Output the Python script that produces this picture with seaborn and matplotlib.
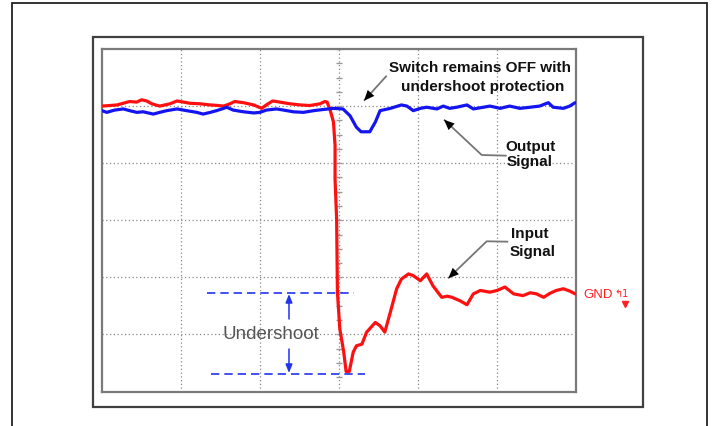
import numpy as np
import pandas as pd
import matplotlib
matplotlib.use("Agg")
import matplotlib.pyplot as plt
from matplotlib.patches import Rectangle
import seaborn as sns

# ---------------- data (units: screen divisions) ----------------
input_t = [0.00, 0.10, 0.19, 0.27, 0.35, 0.44, 0.50, 0.565, 0.63, 0.73, 0.86, 0.95,
           1.03, 1.11, 1.24, 1.37, 1.47, 1.54, 1.62, 1.68, 1.79, 1.92, 2.02, 2.08,
           2.16, 2.25, 2.38, 2.51, 2.63, 2.76, 2.82, 2.85, 2.89, 2.93, 2.95, 2.95,
           2.97, 2.98, 3.01, 3.06, 3.09, 3.13, 3.18, 3.22, 3.29, 3.35, 3.46, 3.52,
           3.58, 3.65, 3.73, 3.79, 3.88, 3.94, 4.03, 4.11, 4.19, 4.30, 4.37, 4.43,
           4.53, 4.62, 4.70, 4.79, 4.91, 5.00, 5.10, 5.21, 5.33, 5.42, 5.50, 5.59,
           5.67, 5.75, 5.84, 5.92, 5.99]
input_v = [5.00, 5.01, 5.02, 5.05, 5.08, 5.07, 5.11, 5.09, 5.04, 5.00, 5.04, 5.09,
           5.07, 5.05, 5.04, 5.02, 5.01, 5.00, 5.04, 5.08, 5.06, 5.02, 4.96, 5.02,
           5.09, 5.07, 5.04, 5.02, 5.01, 5.04, 5.08, 5.07, 4.92, 4.72, 4.31, 3.72,
           3.02, 1.74, 1.10, 0.69, 0.35, 0.35, 0.69, 0.80, 0.83, 1.04, 1.21, 1.15,
           1.04, 1.39, 1.80, 1.97, 2.06, 2.03, 1.94, 2.06, 1.85, 1.65, 1.67, 1.65,
           1.59, 1.52, 1.71, 1.77, 1.74, 1.77, 1.83, 1.71, 1.68, 1.73, 1.71, 1.65,
           1.72, 1.77, 1.80, 1.76, 1.71]

output_t = [0.00, 0.06, 0.16, 0.27, 0.35, 0.44, 0.52, 0.65, 0.73, 0.82, 0.95, 1.07,
            1.20, 1.28, 1.37, 1.45, 1.54, 1.58, 1.66, 1.79, 1.92, 2.00, 2.08, 2.21,
            2.34, 2.42, 2.55, 2.68, 2.80, 2.93, 3.05, 3.14, 3.22, 3.28, 3.39, 3.46,
            3.52, 3.65, 3.79, 3.86, 3.94, 4.03, 4.11, 4.24, 4.32, 4.40, 4.49, 4.62,
            4.70, 4.83, 4.91, 5.04, 5.16, 5.29, 5.42, 5.54, 5.65, 5.71, 5.84, 5.92,
            5.99]
output_v = [4.92, 4.89, 4.93, 4.95, 4.92, 4.89, 4.90, 4.86, 4.89, 4.92, 4.95, 4.92,
            4.89, 4.86, 4.89, 4.92, 4.96, 4.98, 4.93, 4.90, 4.88, 4.89, 4.93, 4.95,
            4.92, 4.90, 4.89, 4.92, 4.94, 4.96, 4.95, 4.83, 4.63, 4.55, 4.55, 4.72,
            4.92, 4.96, 5.02, 5.00, 4.92, 4.96, 4.98, 4.95, 5.00, 4.96, 4.98, 5.02,
            4.95, 4.98, 5.00, 4.96, 5.00, 4.96, 4.98, 5.00, 5.06, 4.98, 4.96, 5.00,
            5.06]

series_names = ["Input", "Output"]
series_colors = ["#ff1010", "#1414f0"]

# ---------------- figure ----------------
sns.set_style("white")
plt.rcParams["font.family"] = ["Liberation Sans", "DejaVu Sans"]

W, H = 714, 427
fig = plt.figure(figsize=(W / 100, H / 100), dpi=100)

def fx(px):
    return px / W

def fy(py):
    return 1 - py / H

# outer page border and instrument frame
fig.add_artist(Rectangle((fx(12.3), -0.1), fx(707.3) - fx(12.3), fy(4) + 0.1,
                         fill=False, ec="#222222", lw=1.3, transform=fig.transFigure))
fig.add_artist(Rectangle((fx(92.5), fy(407.5)), fx(643.3) - fx(92.5), fy(37.7) - fy(407.5),
                         fill=False, ec="#404040", lw=1.6, transform=fig.transFigure))

ax = fig.add_axes([fx(102), fy(392.5), fx(576) - fx(102), fy(50) - fy(392.5)])
ax.set_xlim(0, 6)
ax.set_ylim(0, 6)
for s in ax.spines.values():
    s.set_color("#7a7a7a")
    s.set_linewidth(1.6)
ax.set_xticks([])
ax.set_yticks([])

# graticule
for g in range(1, 6):
    ax.axvline(g, color="#8a8a8a", lw=0.9, ls=(0, (1, 2)), zorder=1)
    ax.axhline(g, color="#8a8a8a", lw=0.9, ls=(0, (1, 2)), zorder=1)
ax.plot([3] * 25, np.arange(0, 6.01, 0.25), ls="none", marker="_", ms=5,
        mew=1.0, color="#999999", zorder=1)

# traces
df = pd.concat([
    pd.DataFrame({"t": input_t, "v": input_v, "signal": series_names[0]}),
    pd.DataFrame({"t": output_t, "v": output_v, "signal": series_names[1]}),
], ignore_index=True)
sns.lineplot(data=df, x="t", y="v", hue="signal", hue_order=series_names,
             palette=dict(zip(series_names, series_colors)), estimator=None,
             sort=False, lw=2.3, legend=False, ax=ax, zorder=3)
ax.set_xlabel("")
ax.set_ylabel("")

def px2d(px, py):
    return ((px - 102) / 79.0, (392.5 - py) / 57.08)

# text labels
bold = dict(fontsize=11, fontweight="bold", color="#111111", ha="center", va="center")
for txt, (px, py) in [("Switch remains OFF with", (480, 68)),
                      ("undershoot protection", (482.5, 87)),
                      ("Output", (531, 147)), ("Signal", (530, 162)),
                      ("Input", (530, 234)), ("Signal", (533, 252.5))]:
    ax.text(*px2d(px, py), txt, **bold)

def pointer(points):
    pts = [px2d(*p) for p in points]
    xs, ys = zip(*pts)
    ax.plot(xs, ys, color="#777777", lw=1.3, zorder=4, solid_capstyle="butt")
    ax.annotate("", xy=pts[-1], xytext=pts[-2],
                arrowprops=dict(arrowstyle="-|>,head_length=0.75,head_width=0.32",
                                color="black", lw=0.01, shrinkA=0, shrinkB=0),
                zorder=5)

pointer([(386.7, 76.7), (364, 101.7)])
pointer([(506.7, 156.7), (481.7, 156), (444, 120.7)])
pointer([(508.3, 242.7), (486.7, 242.3), (448.3, 279.3)])

# undershoot markers
blue = "#2233ee"
x0, y0 = px2d(207, 294)
x1, _ = px2d(354, 294)
ax.plot([x0, x1], [y0, y0], color=blue, lw=1.2, ls=(0, (5, 3)), zorder=4)
x0, y1 = px2d(210.7, 375)
x1, _ = px2d(365, 375)
ax.plot([x0, x1], [y1, y1], color=blue, lw=1.2, ls=(0, (5, 3)), zorder=4)
ax.annotate("", xy=px2d(289, 295), xytext=px2d(289, 320),
            arrowprops=dict(arrowstyle="-|>,head_length=0.5,head_width=0.2",
                            color=blue, lw=1.1, shrinkA=0, shrinkB=0))
ax.annotate("", xy=px2d(289, 374), xytext=px2d(289, 350),
            arrowprops=dict(arrowstyle="-|>,head_length=0.5,head_width=0.2",
                            color=blue, lw=1.1, shrinkA=0, shrinkB=0))
ax.text(*px2d(271, 335), "Undershoot", fontsize=13.5, color="#555555",
        ha="center", va="center")

# ground marker
ax.text(*px2d(583, 295.5), "GND", fontsize=9.5, color="#ff2020", ha="left",
        va="center", clip_on=False)
ax.text(*px2d(614, 294), "\u21b01", fontsize=7, color="#ff2020", ha="left",
        va="center", clip_on=False, family=["DejaVu Sans"])
ax.plot(*px2d(625, 305), marker="v", ms=5, color="#ff2020", clip_on=False, zorder=5)

fig.savefig("out.png", dpi=100)
